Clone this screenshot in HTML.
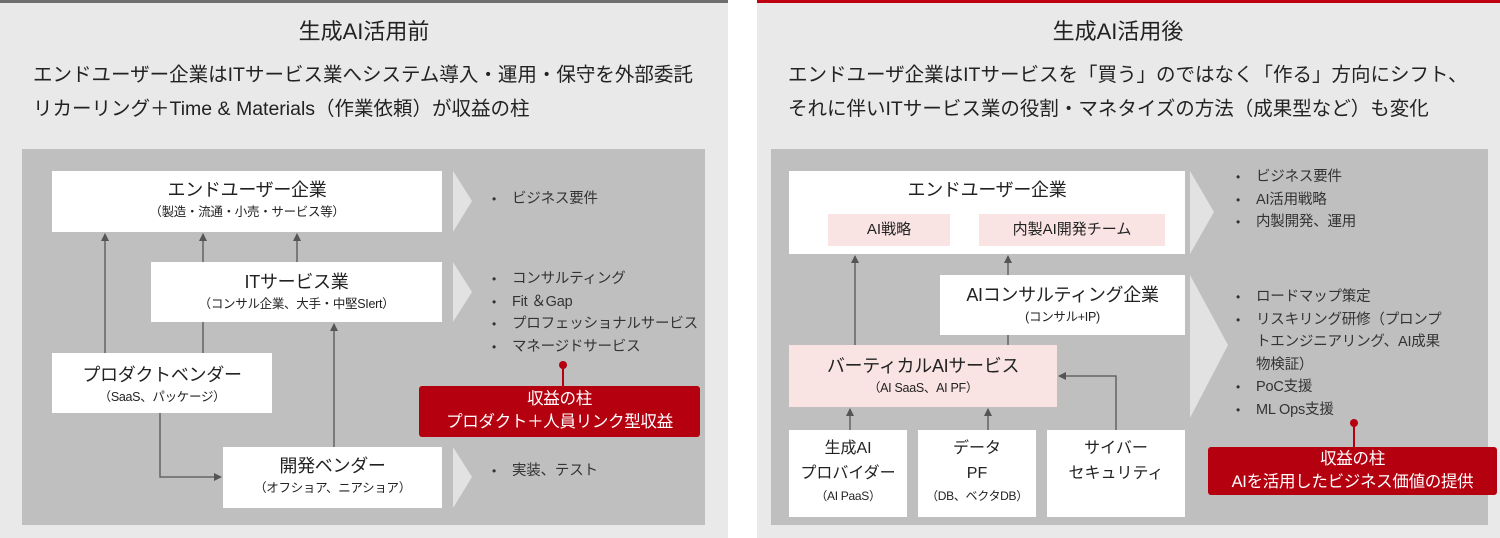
<!DOCTYPE html>
<html><head><meta charset="utf-8"><style>
*{margin:0;padding:0;box-sizing:border-box}
body{width:1500px;height:538px;background:#fff;position:relative;overflow:hidden;font-family:"Liberation Sans","Noto Sans CJK JP",sans-serif;color:#222}
.a{position:absolute}
.box{position:absolute;background:#fff;text-align:center}
.t{font-size:18px;line-height:22px;letter-spacing:-0.3px}
.s{font-size:12.5px;line-height:16px;letter-spacing:-0.3px}
.pk{background:#f9e3e3}
.red{position:absolute;background:#b5000f;color:#fff;text-align:center;font-size:16.5px;line-height:23px;border-radius:3px;letter-spacing:-0.3px}
.bl{position:absolute;font-size:14.5px;line-height:22.5px;color:#333;letter-spacing:-0.2px}
.bl div{padding-left:20px;position:relative}
.bl div:before{content:"•";position:absolute;left:0;font-size:12px}
.bl div.c{padding-left:20px}
.bl div.c:before{content:""}
.hd{font-size:19.5px;line-height:34px}
</style></head><body>
<div class="a" style="left:0;top:0;width:728px;height:538px;background:#e9e9e9;border-top:3px solid #6e6e6e"></div>
<div class="a" style="left:757px;top:0;width:743px;height:538px;background:#e9e9e9;border-top:3px solid #c00010"></div>
<div class="a" style="left:22px;top:149px;width:683px;height:376px;background:#bfbfbf"></div>
<div class="a" style="left:771px;top:149px;width:717px;height:376px;background:#bfbfbf"></div>

<div class="a" style="left:0;width:728px;top:14px;text-align:center;font-size:22px">生成AI活用前</div>
<div class="a hd" style="left:33px;top:58px">エンドユーザー企業はITサービス業へシステム導入・運用・保守を外部委託<br>リカーリング＋Time &amp; Materials（作業依頼）が収益の柱</div>
<div class="a" style="left:757px;width:722px;top:14px;text-align:center;font-size:22px">生成AI活用後</div>
<div class="a hd" style="left:788px;top:58px">エンドユーザ企業はITサービスを「買う」のではなく「作る」方向にシフト、<br>それに伴いITサービス業の役割・マネタイズの方法（成果型など）も変化</div>

<svg class="a" style="left:0;top:0" width="1500" height="538">
<defs><marker id="ar" markerWidth="8" markerHeight="8" refX="7" refY="4" orient="auto" markerUnits="userSpaceOnUse"><path d="M0,0 L8,4 L0,8z" fill="#555"/></marker></defs>
<g fill="#e2e2e2">
<polygon points="453,171 472,201 453,232"/>
<polygon points="453,262 472,292 453,322"/>
<polygon points="453,447 472,477 453,508"/>
<polygon points="1190,171 1214,212 1190,254"/>
<polygon points="1190,275 1228,345 1190,418"/>
</g>
<g stroke="#555" stroke-width="1.3" fill="none">
<line x1="105" y1="353" x2="105" y2="234" marker-end="url(#ar)"/>
<line x1="203" y1="353" x2="203" y2="234" marker-end="url(#ar)"/>
<line x1="297" y1="262" x2="297" y2="234" marker-end="url(#ar)"/>
<line x1="334" y1="447" x2="334" y2="324" marker-end="url(#ar)"/>
<polyline points="160,413 160,477 221,477" marker-end="url(#ar)"/>
<line x1="855" y1="345" x2="855" y2="256" marker-end="url(#ar)"/>
<line x1="1008" y1="345" x2="1008" y2="256" marker-end="url(#ar)"/>
<line x1="850" y1="430" x2="850" y2="409" marker-end="url(#ar)"/>
<line x1="988" y1="430" x2="988" y2="409" marker-end="url(#ar)"/>
<polyline points="1116,430 1116,376 1059,376" marker-end="url(#ar)"/>
</g>
<g stroke="#b5000f" stroke-width="2"><line x1="563" y1="365" x2="563" y2="386"/><line x1="1354" y1="423" x2="1354" y2="447"/></g>
<circle cx="563" cy="365" r="4" fill="#b5000f"/><circle cx="1354" cy="423" r="4" fill="#b5000f"/>
</svg>

<div class="box" style="left:52px;top:171px;width:390px;height:61px;padding-top:8px"><div class="t">エンドユーザー企業</div><div class="s" style="margin-top:3px">（製造・流通・小売・サービス等）</div></div>
<div class="box" style="left:151px;top:262px;width:291px;height:60px;padding-top:9px"><div class="t">ITサービス業</div><div class="s" style="margin-top:3px">（コンサル企業、大手・中堅SIert）</div></div>
<div class="box" style="left:52px;top:353px;width:220px;height:60px;padding-top:11px"><div class="t">プロダクトベンダー</div><div class="s" style="margin-top:3px">（SaaS、パッケージ）</div></div>
<div class="box" style="left:223px;top:447px;width:219px;height:61px;padding-top:8px"><div class="t">開発ベンダー</div><div class="s" style="margin-top:3px">（オフショア、ニアショア）</div></div>
<div class="red" style="left:419px;top:386px;width:281px;height:51px;padding-top:2px">収益の柱<br>プロダクト＋人員リンク型収益</div>

<div class="bl" style="left:492px;top:188px"><div>ビジネス要件</div></div>
<div class="bl" style="left:492px;top:268px"><div>コンサルティング</div><div>Fit ＆Gap</div><div>プロフェッショナルサービス</div><div>マネージドサービス</div></div>
<div class="bl" style="left:492px;top:460px"><div>実装、テスト</div></div>

<div class="box" style="left:789px;top:171px;width:396px;height:83px;padding-top:8px"><div class="t">エンドユーザー企業</div></div>
<div class="box pk" style="left:828px;top:214px;width:122px;height:32px;font-size:15px;line-height:32px">AI戦略</div>
<div class="box pk" style="left:979px;top:214px;width:186px;height:32px;font-size:15px;line-height:32px">内製AI開発チーム</div>
<div class="box" style="left:940px;top:275px;width:245px;height:60px;padding-top:9px"><div class="t">AIコンサルティング企業</div><div class="s" style="margin-top:3px">(コンサル+IP)</div></div>
<div class="box pk" style="left:789px;top:345px;width:268px;height:62px;padding-top:10px"><div class="t">バーティカルAIサービス</div><div class="s" style="margin-top:3px">（AI SaaS、AI PF）</div></div>
<div class="box" style="left:789px;top:430px;width:118px;height:87px;padding-top:6px"><div style="font-size:16px;line-height:25px">生成AI<br>プロバイダー</div><div class="s" style="margin-top:2px;font-size:12px">（AI PaaS）</div></div>
<div class="box" style="left:918px;top:430px;width:118px;height:87px;padding-top:6px"><div style="font-size:16px;line-height:25px">データ<br>PF</div><div class="s" style="margin-top:2px;font-size:12px">（DB、ベクタDB）</div></div>
<div class="box" style="left:1047px;top:430px;width:138px;height:87px;padding-top:6px"><div style="font-size:16px;line-height:25px">サイバー<br>セキュリティ</div></div>
<div class="red" style="left:1208px;top:447px;width:289px;height:48px;padding-top:1px">収益の柱<br>AIを活用したビジネス価値の提供</div>

<div class="bl" style="left:1236px;top:166px"><div>ビジネス要件</div><div>AI活用戦略</div><div>内製開発、運用</div></div>
<div class="bl" style="left:1236px;top:286px"><div>ロードマップ策定</div><div>リスキリング研修（プロンプ</div><div class="c">トエンジニアリング、AI成果</div><div class="c">物検証）</div><div>PoC支援</div><div>ML Ops支援</div></div>
</body></html>
